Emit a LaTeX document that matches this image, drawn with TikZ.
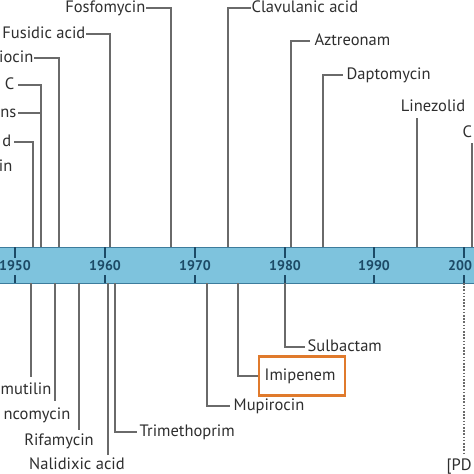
\documentclass[tikz,border=0pt]{standalone}
\usepackage{fontspec}
\setmainfont{PT Sans}
\definecolor{barfill}{HTML}{7EC3DD}
\definecolor{baredge}{HTML}{3C7C9C}
\definecolor{yearcol}{HTML}{1C4A66}
\definecolor{txt}{HTML}{2E2E2E}
\definecolor{conncol}{HTML}{6A6A6A}
\definecolor{boxorange}{HTML}{E07A2C}
\tikzset{
  lbl/.style={font=\fontsize{16.5}{18}\selectfont, text=txt, inner sep=0.5pt, text height=11.5pt, text depth=3.5pt},
  yearlbl/.style={font=\fontsize{14}{16}\selectfont\bfseries, text=yearcol, inner sep=1pt},
  conn/.style={draw=conncol, line width=1.1pt},
  tickmark/.style={draw=yearcol, line width=1.3pt},
  dotconn/.style={draw=conncol, line width=1.1pt, dash pattern=on 1.6pt off 1.6pt},
  hlbox/.style={draw=boxorange, line width=2.2pt, minimum width=86pt, minimum height=39pt, inner sep=0pt}
}
\begin{document}
\begin{tikzpicture}[x=1pt,y=-1pt]
\useasboundingbox (0,0) rectangle (474,474);
% bar
\fill[barfill] (0,247) rectangle (474,283);
\draw[baredge, line width=0.9pt] (0,247) -- (474,247);
\draw[baredge, line width=0.9pt] (0,283) -- (474,283);
% ticks and years
\foreach \xx in {15,105,195,285,374,464}{
  \draw[tickmark] (\xx,247) -- (\xx,258);
  \draw[tickmark] (\xx,275) -- (\xx,283);
}
\foreach \xx/\yr in {15/1950,105/1960,195/1970,285/1980,374/1990}{
  \node[yearlbl] (y\yr) at (\xx,266) {\yr};
}
\node[yearlbl, anchor=west] (y2000) at (447,266) {200};
% ---------- top labels ----------
\node[lbl, anchor=east] (fosf) at (146,8) {Fosfomycin};
\coordinate (fosfbar) at (171,247);
\draw[conn] (fosf.east) -- (fosfbar |- fosf.east) -- (fosfbar);

\node[lbl, anchor=east] (fusi) at (86,34) {Fusidic acid};
\coordinate (fusibar) at (110,247);
\draw[conn] (fusi.east) -- (fusibar |- fusi.east) -- (fusibar);

\node[lbl, anchor=east] (ocin) at (34,58) {iocin};
\coordinate (ocinbar) at (59,247);
\draw[conn] (ocin.east) -- (ocinbar |- ocin.east) -- (ocinbar);

\node[lbl, anchor=east] (cc) at (15,85) {C};
\node[lbl, anchor=east] (ns) at (17,113) {ns};
\coordinate (ccbar) at (41,247);
\draw[conn] (cc.east) ++(3,0) -- (ccbar |- cc.east) -- (ccbar);
\draw[conn] (ns.east) ++(1,0) -- (ccbar |- ns.east);

\node[lbl, anchor=east] (dd) at (12,142) {d};
\coordinate (ddbar) at (33,247);
\draw[conn] (dd.east) ++(2,0) -- (ddbar |- dd.east) -- (ddbar);

\node[lbl, anchor=east] (inn) at (13,167) {in};

\node[lbl, anchor=west] (clav) at (251,8) {Clavulanic acid};
\coordinate (clavbar) at (228,247);
\draw[conn] (clav.west) -- (clavbar |- clav.west) -- (clavbar);

\node[lbl, anchor=west] (aztr) at (314,41) {Aztreonam};
\coordinate (aztrbar) at (291,247);
\draw[conn] (aztr.west) ++(-4,0) -- (aztrbar |- aztr.west) -- (aztrbar);

\node[lbl, anchor=west] (dapt) at (346,75) {Daptomycin};
\coordinate (daptbar) at (323,247);
\draw[conn] (dapt.west) ++(-3,0) -- (daptbar |- dapt.west) -- (daptbar);

\node[lbl, anchor=center] (line) at (433,107) {Linezolid};
\coordinate (linebar) at (417,247);
\draw[conn] (linebar |- line.south) ++(0,3) -- (linebar);

\node[lbl, anchor=west] (cr) at (462,133) {C};
\coordinate (crbar) at (472,247);
\draw[conn] (crbar |- cr.south) ++(0,2) -- (crbar);

% ---------- bottom labels ----------
\node[lbl, anchor=east] (mut) at (52,390) {mutilin};
\coordinate (mutbar) at (31,283);
\draw[conn] (mutbar) -- (31,377);

\node[lbl, anchor=east] (vanc) at (71,415) {ncomycin};
\coordinate (vancbar) at (55,283);
\draw[conn] (vancbar) -- (55,401);

\node[lbl, anchor=center] (rifa) at (59,441) {Rifamycin};
\coordinate (rifabar) at (79,283);
\draw[conn] (rifabar) -- (79,430);

\node[lbl, anchor=center] (nali) at (77,465) {Nalidixic acid};
\coordinate (nalibar) at (108,283);
\draw[conn] (nalibar) -- (108,455);

\node[lbl, anchor=west] (trim) at (139,432) {Trimethoprim};
\coordinate (trimbar) at (115,283);
\draw[conn] (trimbar) -- (trimbar |- trim.west) -- ([xshift=-2pt]trim.west);

\node[lbl, anchor=west] (mupi) at (233,406) {Mupirocin};
\coordinate (mupibar) at (207,283);
\draw[conn] (mupibar) -- (mupibar |- mupi.west) -- ([xshift=-3pt]mupi.west);

\node[hlbox, anchor=west] (imip) at (258,376) {};
\node[lbl, anchor=west] (imiptxt) at (264,376) {Imipenem};
\coordinate (imipbar) at (238,283);
\draw[conn] (imipbar) -- (imipbar |- imip.west) -- (imip.west);

\node[lbl, anchor=west] (sulb) at (307,347) {Sulbactam};
\coordinate (sulbbar) at (285,283);
\draw[conn] (sulbbar) -- (sulbbar |- sulb.west) -- ([xshift=-2pt]sulb.west);

\node[lbl, anchor=west] (pd) at (446,466) {[PD};
\coordinate (pdbar) at (464,283);
\draw[dotconn] (pdbar) -- (464,454);
\end{tikzpicture}
\end{document}
